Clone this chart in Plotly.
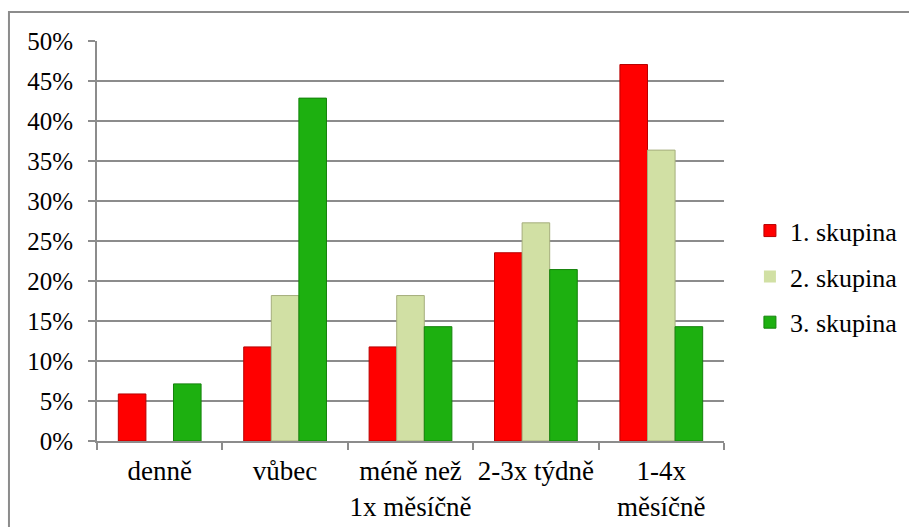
import plotly.graph_objects as go

categories = ["denně", "vůbec", "méně než<br>1x měsíčně", "2-3x týdně", "1-4x<br>měsíčně"]
series_names = ["1. skupina", "2. skupina", "3. skupina"]
skupina_1 = [5.88, 11.76, 11.76, 23.53, 47.06]
skupina_2 = [0.0, 18.18, 18.18, 27.27, 36.36]
skupina_3 = [7.14, 42.86, 14.29, 21.43, 14.29]
y_ticks = [0, 5, 10, 15, 20, 25, 30, 35, 40, 45, 50]
y_tick_labels = [f"{v}%" for v in y_ticks]

fills = ["#FF0000", "#D1E0A4", "#1DB010"]
edges = ["#B80000", "#A5AE7C", "#14820B"]

FONT = "'Liberation Serif', 'Times New Roman', Times, 'DejaVu Serif', serif"

fig = go.Figure()
for i, (name, vals) in enumerate(zip(series_names, [skupina_1, skupina_2, skupina_3])):
    fig.add_trace(go.Bar(
        x=categories, y=vals, name=name,
        legendgroup=name,
        marker=dict(color=fills[i],
                    line=dict(color=edges[i], width=[1 if v > 0 else 0 for v in vals])),
    ))

fig.update_layout(
    width=909, height=527,
    margin=dict(l=97, r=185, t=41, b=86),
    paper_bgcolor="white", plot_bgcolor="white",
    barmode="group", bargap=0.34, bargroupgap=0,
    font=dict(family=FONT, size=25, color="black"),
    showlegend=True,
    legend=dict(xref="container", x=0.825, xanchor="left",
                yref="container", y=0.475, yanchor="middle",
                font=dict(family=FONT, size=26, color="black"),
                tracegroupgap=9, bgcolor="rgba(0,0,0,0)"),
    shapes=[dict(type="rect", xref="paper", yref="paper",
                 x0=-0.1404, x1=1.5, y0=-0.5, y1=1.0725,
                 line=dict(color="#8C8C8C", width=2), layer="below")],
)

fig.update_yaxes(
    range=[0, 50], tickmode="array", tickvals=y_ticks, ticktext=y_tick_labels,
    showgrid=True, gridcolor="#8C8C8C", gridwidth=2,
    showline=True, linecolor="#8C8C8C", linewidth=2,
    ticks="outside", ticklen=7, tickcolor="#8C8C8C", tickwidth=2,
    ticklabelstandoff=10,
    zeroline=False, automargin=False,
    tickfont=dict(family=FONT, size=25, color="black"),
)
fig.update_xaxes(
    showline=True, linecolor="#8C8C8C", linewidth=2,
    ticks="outside", tickson="boundaries", ticklen=7,
    tickcolor="#8C8C8C", tickwidth=2, tickangle=0, automargin=False,
    ticklabelstandoff=5,
    tickfont=dict(family=FONT, size=27, color="black"),
)

fig.write_html("out.html")
